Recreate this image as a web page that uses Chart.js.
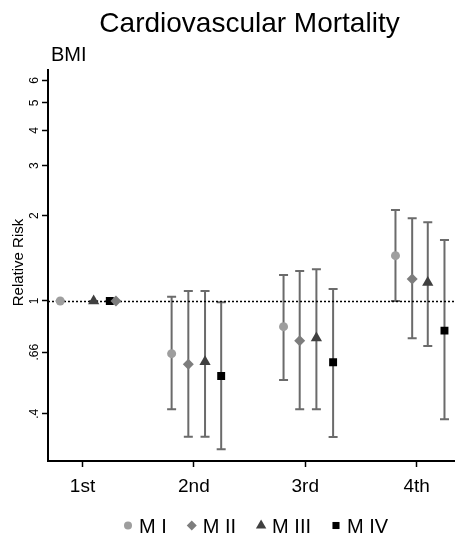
<!DOCTYPE html>
<html>
<head>
<meta charset="utf-8">
<script src="https://cdn.jsdelivr.net/npm/chart.js@4.4.1/dist/chart.umd.min.js"></script>
<style>
    html, body { margin: 0; padding: 0; background: #fff; }
    #wrap { width: 461px; height: 541px; }
</style>
</head>
<body>
<div id="wrap"><canvas id="chart" width="461" height="541"></canvas></div>
<script>
// Cardiovascular Mortality by BMI quartile, four adjusted models (log scale)

const titleText = 'Cardiovascular Mortality';
const subtitleText = 'BMI';
const yTitle = 'Relative Risk';

const xTickValues = [1, 2, 3, 4];
const xTickLabels = ['1st', '2nd', '3rd', '4th'];
const yTickValues = [0.4, 0.66, 1, 2, 3, 4, 5, 6];
const yTickLabels = ['.4', '.66', '1', '2', '3', '4', '5', '6'];
const refValue = 1;

const models = ['M I', 'M II', 'M III', 'M IV'];

// x position of each marker on the quartile axis
const mIx = [0.80, 1.80, 2.805, 3.81];
const mIIx = [1.30, 1.95, 2.95, 3.96];
const mIIIx = [1.10, 2.10, 3.10, 4.10];
const mIVx = [1.245, 2.245, 3.25, 4.25];

// relative risk, lower and upper CI
const mIrr = [1, 0.652, 0.812, 1.445];
const mIlo = [1, 0.415, 0.526, 1.0];
const mIhi = [1, 1.036, 1.235, 2.094];

const mIIrr = [1, 0.598, 0.724, 1.196];
const mIIlo = [1, 0.332, 0.415, 0.739];
const mIIhi = [1, 1.085, 1.276, 1.958];

const mIIIrr = [1, 0.61, 0.741, 1.161];
const mIIIlo = [1, 0.332, 0.415, 0.694];
const mIIIhi = [1, 1.085, 1.294, 1.896];

const mIVrr = [1, 0.544, 0.608, 0.786];
const mIVlo = [1, 0.300, 0.331, 0.383];
const mIVhi = [1, 0.989, 1.102, 1.641];

const FONT = "'Liberation Sans', Arial, Helvetica, sans-serif";
const CI_COLOR = '#6b6b6b';

const styles = [
    { color: '#9e9e9e', pointStyle: 'circle', radius: 4.5, legendRadius: 4 },
    { color: '#7d7d7d', pointStyle: 'rectRot', radius: 5.5, legendRadius: 5 },
    { color: '#404040', pointStyle: 'triangle', radius: 6.5, legendRadius: 6 },
    { color: '#000000', pointStyle: 'rect', radius: 5.6, legendRadius: 5 },
];

const xs = [mIx, mIIx, mIIIx, mIVx];
const rrs = [mIrr, mIIrr, mIIIrr, mIVrr];
const los = [mIlo, mIIlo, mIIIlo, mIVlo];
const his = [mIhi, mIIhi, mIIIhi, mIVhi];

const datasets = models.map((name, m) => ({
    label: name,
    data: xs[m].map((x, i) => ({ x, y: rrs[m][i], lo: los[m][i], hi: his[m][i] })),
    pointStyle: styles[m].pointStyle,
    pointRadius: styles[m].radius,
    pointHoverRadius: styles[m].radius,
    backgroundColor: styles[m].color,
    borderColor: styles[m].color,
    pointBorderWidth: 0,
    showLine: false,
}));

// error bars + dotted reference line, under the markers
const errorBars = {
    id: 'errorBars',
    beforeDatasetsDraw(chart) {
        const { ctx, chartArea, scales: { x, y } } = chart;
        ctx.save();
        ctx.strokeStyle = CI_COLOR;
        ctx.lineWidth = 2;
        chart.data.datasets.forEach((ds) => {
            ds.data.forEach((p) => {
                const px = x.getPixelForValue(p.x);
                const top = y.getPixelForValue(p.hi);
                const bot = y.getPixelForValue(p.lo);
                ctx.beginPath();
                ctx.moveTo(px, top);
                ctx.lineTo(px, bot);
                ctx.moveTo(px - 4.5, top);
                ctx.lineTo(px + 4.5, top);
                ctx.moveTo(px - 4.5, bot);
                ctx.lineTo(px + 4.5, bot);
                ctx.stroke();
            });
        });
        const ry = Math.round(y.getPixelForValue(refValue)) + 0.5;
        ctx.strokeStyle = '#000';
        ctx.lineWidth = 1.5;
        ctx.setLineDash([2, 2]);
        ctx.beginPath();
        ctx.moveTo(chartArea.left, ry);
        ctx.lineTo(chartArea.right, ry);
        ctx.stroke();
        ctx.restore();
    },
};

// titles, rotated y tick labels and the legend
const decorations = {
    id: 'decorations',
    afterDraw(chart) {
        const { ctx, scales: { y } } = chart;
        ctx.save();
        ctx.fillStyle = '#000';

        ctx.font = `28px ${FONT}`;
        ctx.textAlign = 'center';
        ctx.textBaseline = 'alphabetic';
        ctx.fillText(titleText, 249.5, 32);

        ctx.font = `20px ${FONT}`;
        ctx.textAlign = 'left';
        ctx.fillText(subtitleText, 51, 61);

        ctx.save();
        ctx.translate(23.3, 262.5);
        ctx.rotate(-Math.PI / 2);
        ctx.font = `15px ${FONT}`;
        ctx.textAlign = 'center';
        ctx.fillText(yTitle, 0, 0);
        ctx.restore();

        ctx.font = `12px ${FONT}`;
        yTickValues.forEach((v, i) => {
            ctx.save();
            ctx.translate(37.5, y.getPixelForValue(v));
            ctx.rotate(-Math.PI / 2);
            ctx.textAlign = 'center';
            ctx.fillText(yTickLabels[i], 0, 0);
            ctx.restore();
        });

        // legend
        ctx.font = `20px ${FONT}`;
        ctx.textAlign = 'left';
        let cx = 124;
        const ly = 525.5;
        models.forEach((name, m) => {
            ctx.fillStyle = styles[m].color;
            ctx.strokeStyle = styles[m].color;
            Chart.helpers.drawPoint(ctx, {
                pointStyle: styles[m].pointStyle,
                radius: styles[m].legendRadius,
                borderWidth: 0,
                rotation: 0,
            }, cx + 4, ly);
            ctx.fillStyle = '#000';
            ctx.fillText(name, cx + 15, 532.5);
            cx += 15 + ctx.measureText(name).width + 21;
        });
        ctx.restore();
    },
};

new Chart(document.getElementById('chart'), {
    type: 'scatter',
    data: { datasets },
    plugins: [errorBars, decorations],
    options: {
        responsive: false,
        animation: false,
        devicePixelRatio: 1,
        layout: { padding: { top: 70, right: 0, bottom: 0, left: 0 } },
        plugins: {
            legend: { display: false },
            title: { display: false },
            tooltip: { enabled: false },
        },
        scales: {
            x: {
                type: 'linear',
                min: 0.69,
                max: 4.34,
                afterBuildTicks: (scale) => {
                    scale.ticks = xTickValues.map((v) => ({ value: v }));
                },
                afterFit: (scale) => { scale.height = 80; },
                grid: {
                    drawOnChartArea: false,
                    drawTicks: true,
                    tickLength: 6,
                    tickColor: '#000',
                    tickWidth: 1.5,
                },
                border: { display: true, color: '#000', width: 2 },
                ticks: {
                    color: '#000',
                    font: { family: FONT, size: 19 },
                    padding: 8,
                    maxRotation: 0,
                    callback: (value, i) => xTickLabels[i],
                },
            },
            y: {
                type: 'logarithmic',
                min: 0.2726,
                max: 6.53,
                afterBuildTicks: (scale) => {
                    scale.ticks = yTickValues.map((v) => ({ value: v }));
                },
                afterFit: (scale) => { scale.width = 48; },
                grid: {
                    drawOnChartArea: false,
                    drawTicks: true,
                    tickLength: 6,
                    tickColor: '#000',
                    tickWidth: 1.5,
                },
                border: { display: true, color: '#000', width: 2 },
                ticks: { display: false },
            },
        },
    },
});
</script>
</body>
</html>
